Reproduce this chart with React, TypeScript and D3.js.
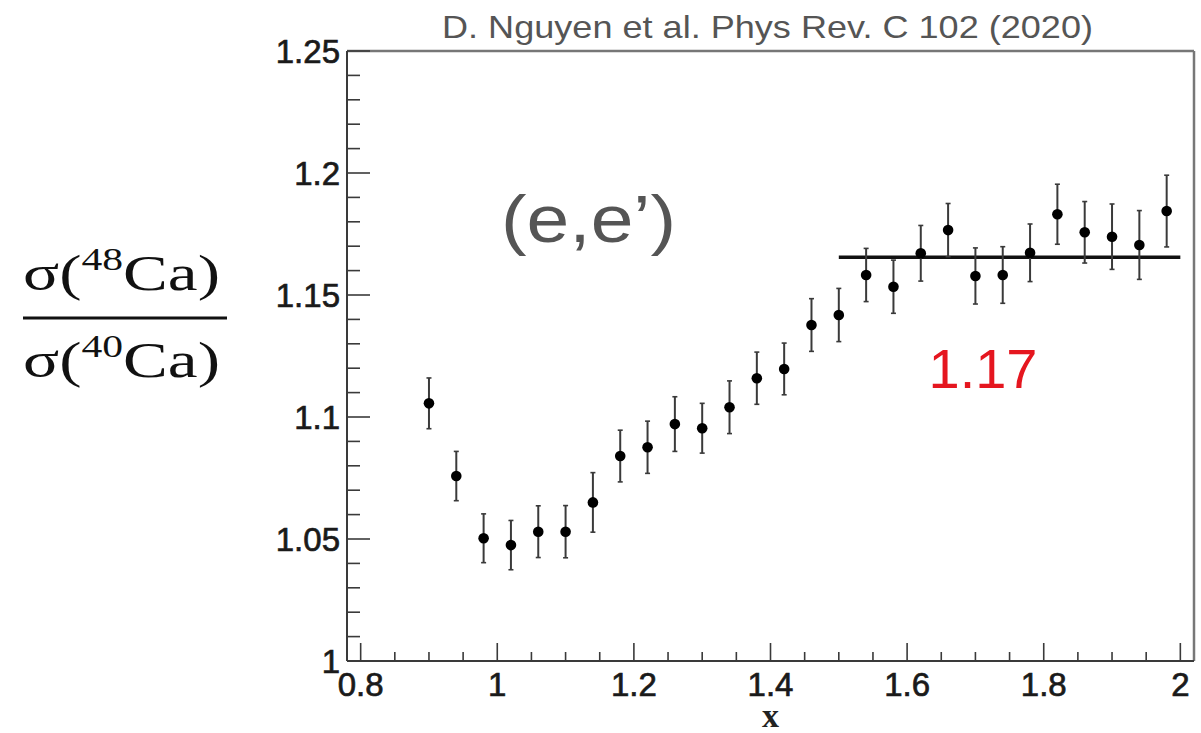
import React from "react";
import * as d3 from "d3";

// Bjorken x bin centres
const xValues = [
  0.9, 0.94, 0.98, 1.02, 1.06, 1.1, 1.14, 1.18, 1.22, 1.26, 1.3, 1.34, 1.38, 1.42,
  1.46, 1.5, 1.54, 1.58, 1.62, 1.66, 1.7, 1.74, 1.78, 1.82, 1.86, 1.9, 1.94, 1.98,
];
// 48Ca / 40Ca cross-section ratio per bin
const ratioValues = [
  1.1056, 1.0758, 1.0503, 1.0475, 1.053, 1.053, 1.065, 1.084, 1.0876, 1.0971, 1.0954,
  1.104, 1.1159, 1.1197, 1.1377, 1.1418, 1.1582, 1.1534, 1.1671, 1.1766, 1.1578,
  1.1582, 1.1673, 1.1831, 1.1757, 1.1739, 1.1705, 1.1844,
];
// total uncertainty per bin
const ratioErrors = [
  0.0104, 0.0101, 0.01, 0.0101, 0.0106, 0.0107, 0.0122, 0.0106, 0.0107, 0.0112, 0.0102,
  0.0108, 0.0107, 0.0106, 0.0108, 0.0109, 0.0109, 0.0109, 0.0114, 0.0109, 0.0115,
  0.0116, 0.0118, 0.0123, 0.0126, 0.0134, 0.0141, 0.0147,
];

const xTicks = [0.8, 1, 1.2, 1.4, 1.6, 1.8, 2];
const xTickLabels = ["0.8", "1", "1.2", "1.4", "1.6", "1.8", "2"];
const yTicks = [1, 1.05, 1.1, 1.15, 1.2, 1.25];
const yTickLabels = ["1", "1.05", "1.1", "1.15", "1.2", "1.25"];

// plateau fit over 1.5 < x < 2
const fitRange = [1.5, 2.0];
const fitValue = 1.1655;

const W = 1201;
const H = 733;
const frame = { left: 347, right: 1194, top: 51, bottom: 661 };

export default function App() {
  const x = d3.scaleLinear().domain([0.78, 2.02]).range([frame.left, frame.right]);
  const y = d3.scaleLinear().domain([1, 1.25]).range([frame.bottom, frame.top]);

  const yMinor = d3.range(0, 26).filter((i) => i % 5 !== 0).map((i) => 1 + i * 0.01);
  const xMinor = d3.range(0, 25).filter((i) => i % 4 !== 0).map((i) => 0.8 + i * 0.05);

  const sans = "'Liberation Sans', Arial, Helvetica, sans-serif";
  const serif = "'Liberation Serif', 'Times New Roman', serif";
  const axisColor = "#3a3a3a";
  const labelColor = "#1a1a1a";

  return (
    <svg
      width={W}
      height={H}
      viewBox={`0 0 ${W} ${H}`}
      style={{ position: "absolute", left: 0, top: 0, display: "block", background: "#fff" }}
    >
      <rect x={0} y={0} width={W} height={H} fill="#fff" />

      {/* title */}
      <text
        x={442}
        y={38}
        fontFamily={sans}
        fontSize={32}
        fill="#555"
        textLength={651}
        lengthAdjust="spacingAndGlyphs"
      >
        D. Nguyen et al. Phys Rev. C 102 (2020)
      </text>

      {/* frame: top and right */}
      <line x1={frame.left} x2={frame.right} y1={frame.top} y2={frame.top} stroke="#777" strokeWidth={2.5} />
      <line x1={frame.right} x2={frame.right} y1={frame.top} y2={frame.bottom} stroke="#777" strokeWidth={2.5} />

      {/* y axis */}
      <line x1={frame.left} x2={frame.left} y1={frame.top} y2={frame.bottom} stroke={axisColor} strokeWidth={2} />
      {yMinor.map((v, i) => (
        <line key={`ym${i}`} x1={frame.left} x2={frame.left + 13} y1={y(v)} y2={y(v)} stroke={axisColor} strokeWidth={1.6} />
      ))}
      {yTicks.map((v, i) => (
        <g key={`yt${i}`}>
          <line x1={frame.left} x2={frame.left + 23} y1={y(v)} y2={y(v)} stroke={axisColor} strokeWidth={1.6} />
          <text
            x={340}
            y={y(v)}
            dy="0.36em"
            textAnchor="end"
            fontFamily={sans}
            fontSize={33}
            fill={labelColor}
            stroke={labelColor}
            strokeWidth={0.7}
          >
            {yTickLabels[i]}
          </text>
        </g>
      ))}

      {/* x axis */}
      <line x1={frame.left} x2={frame.right} y1={frame.bottom} y2={frame.bottom} stroke={axisColor} strokeWidth={2} />
      {xMinor.map((v, i) => (
        <line key={`xm${i}`} x1={x(v)} x2={x(v)} y1={frame.bottom} y2={frame.bottom - 9} stroke={axisColor} strokeWidth={1.6} />
      ))}
      {xTicks.map((v, i) => (
        <g key={`xt${i}`}>
          <line x1={x(v)} x2={x(v)} y1={frame.bottom} y2={frame.bottom - 18} stroke={axisColor} strokeWidth={1.6} />
          <text
            x={x(v)}
            y={696}
            textAnchor="middle"
            fontFamily={sans}
            fontSize={33}
            fill={labelColor}
            stroke={labelColor}
            strokeWidth={0.7}
          >
            {xTickLabels[i]}
          </text>
        </g>
      ))}
      <text
        x={x(1.4)}
        y={727}
        textAnchor="middle"
        fontFamily={serif}
        fontSize={34}
        fontWeight="bold"
        fill="#222"
      >
        x
      </text>

      {/* y axis label: cross-section ratio */}
      <g fontFamily={serif} fill="#111">
        <text x={23} y={290} fontSize={50} textLength={197} lengthAdjust="spacingAndGlyphs">
          σ(
          <tspan fontSize={31} dy={-20}>48</tspan>
          <tspan dy={20}>Ca)</tspan>
        </text>
        <line x1={23} x2={227} y1={318} y2={318} stroke="#111" strokeWidth={3.2} />
        <text x={23} y={377} fontSize={50} textLength={197} lengthAdjust="spacingAndGlyphs">
          σ(
          <tspan fontSize={31} dy={-20}>40</tspan>
          <tspan dy={20}>Ca)</tspan>
        </text>
      </g>

      {/* reaction label */}
      <text
        x={501}
        y={242}
        fontFamily={sans}
        fontSize={66}
        fill="#555"
        textLength={175}
        lengthAdjust="spacingAndGlyphs"
      >
        (e,e’)
      </text>

      {/* plateau fit line and value */}
      <line
        x1={x(fitRange[0])}
        x2={x(fitRange[1])}
        y1={y(fitValue)}
        y2={y(fitValue)}
        stroke="#111"
        strokeWidth={3.5}
      />
      <text
        x={983}
        y={388}
        textAnchor="middle"
        fontFamily={sans}
        fontSize={56}
        fill="#e5161f"
      >
        {d3.format(".2f")(fitValue)}
      </text>

      {/* data points with error bars */}
      {xValues.map((xv, i) => {
        const cx = x(xv);
        const lo = y(ratioValues[i] - ratioErrors[i]);
        const hi = y(ratioValues[i] + ratioErrors[i]);
        return (
          <g key={`p${i}`}>
            <line x1={cx} x2={cx} y1={hi} y2={lo} stroke="#3a3a3a" strokeWidth={2} />
            <line x1={cx - 2.5} x2={cx + 2.5} y1={hi} y2={hi} stroke="#3a3a3a" strokeWidth={1.6} />
            <line x1={cx - 2.5} x2={cx + 2.5} y1={lo} y2={lo} stroke="#3a3a3a" strokeWidth={1.6} />
            <circle cx={cx} cy={y(ratioValues[i])} r={5.3} fill="#000" />
          </g>
        );
      })}
    </svg>
  );
}
